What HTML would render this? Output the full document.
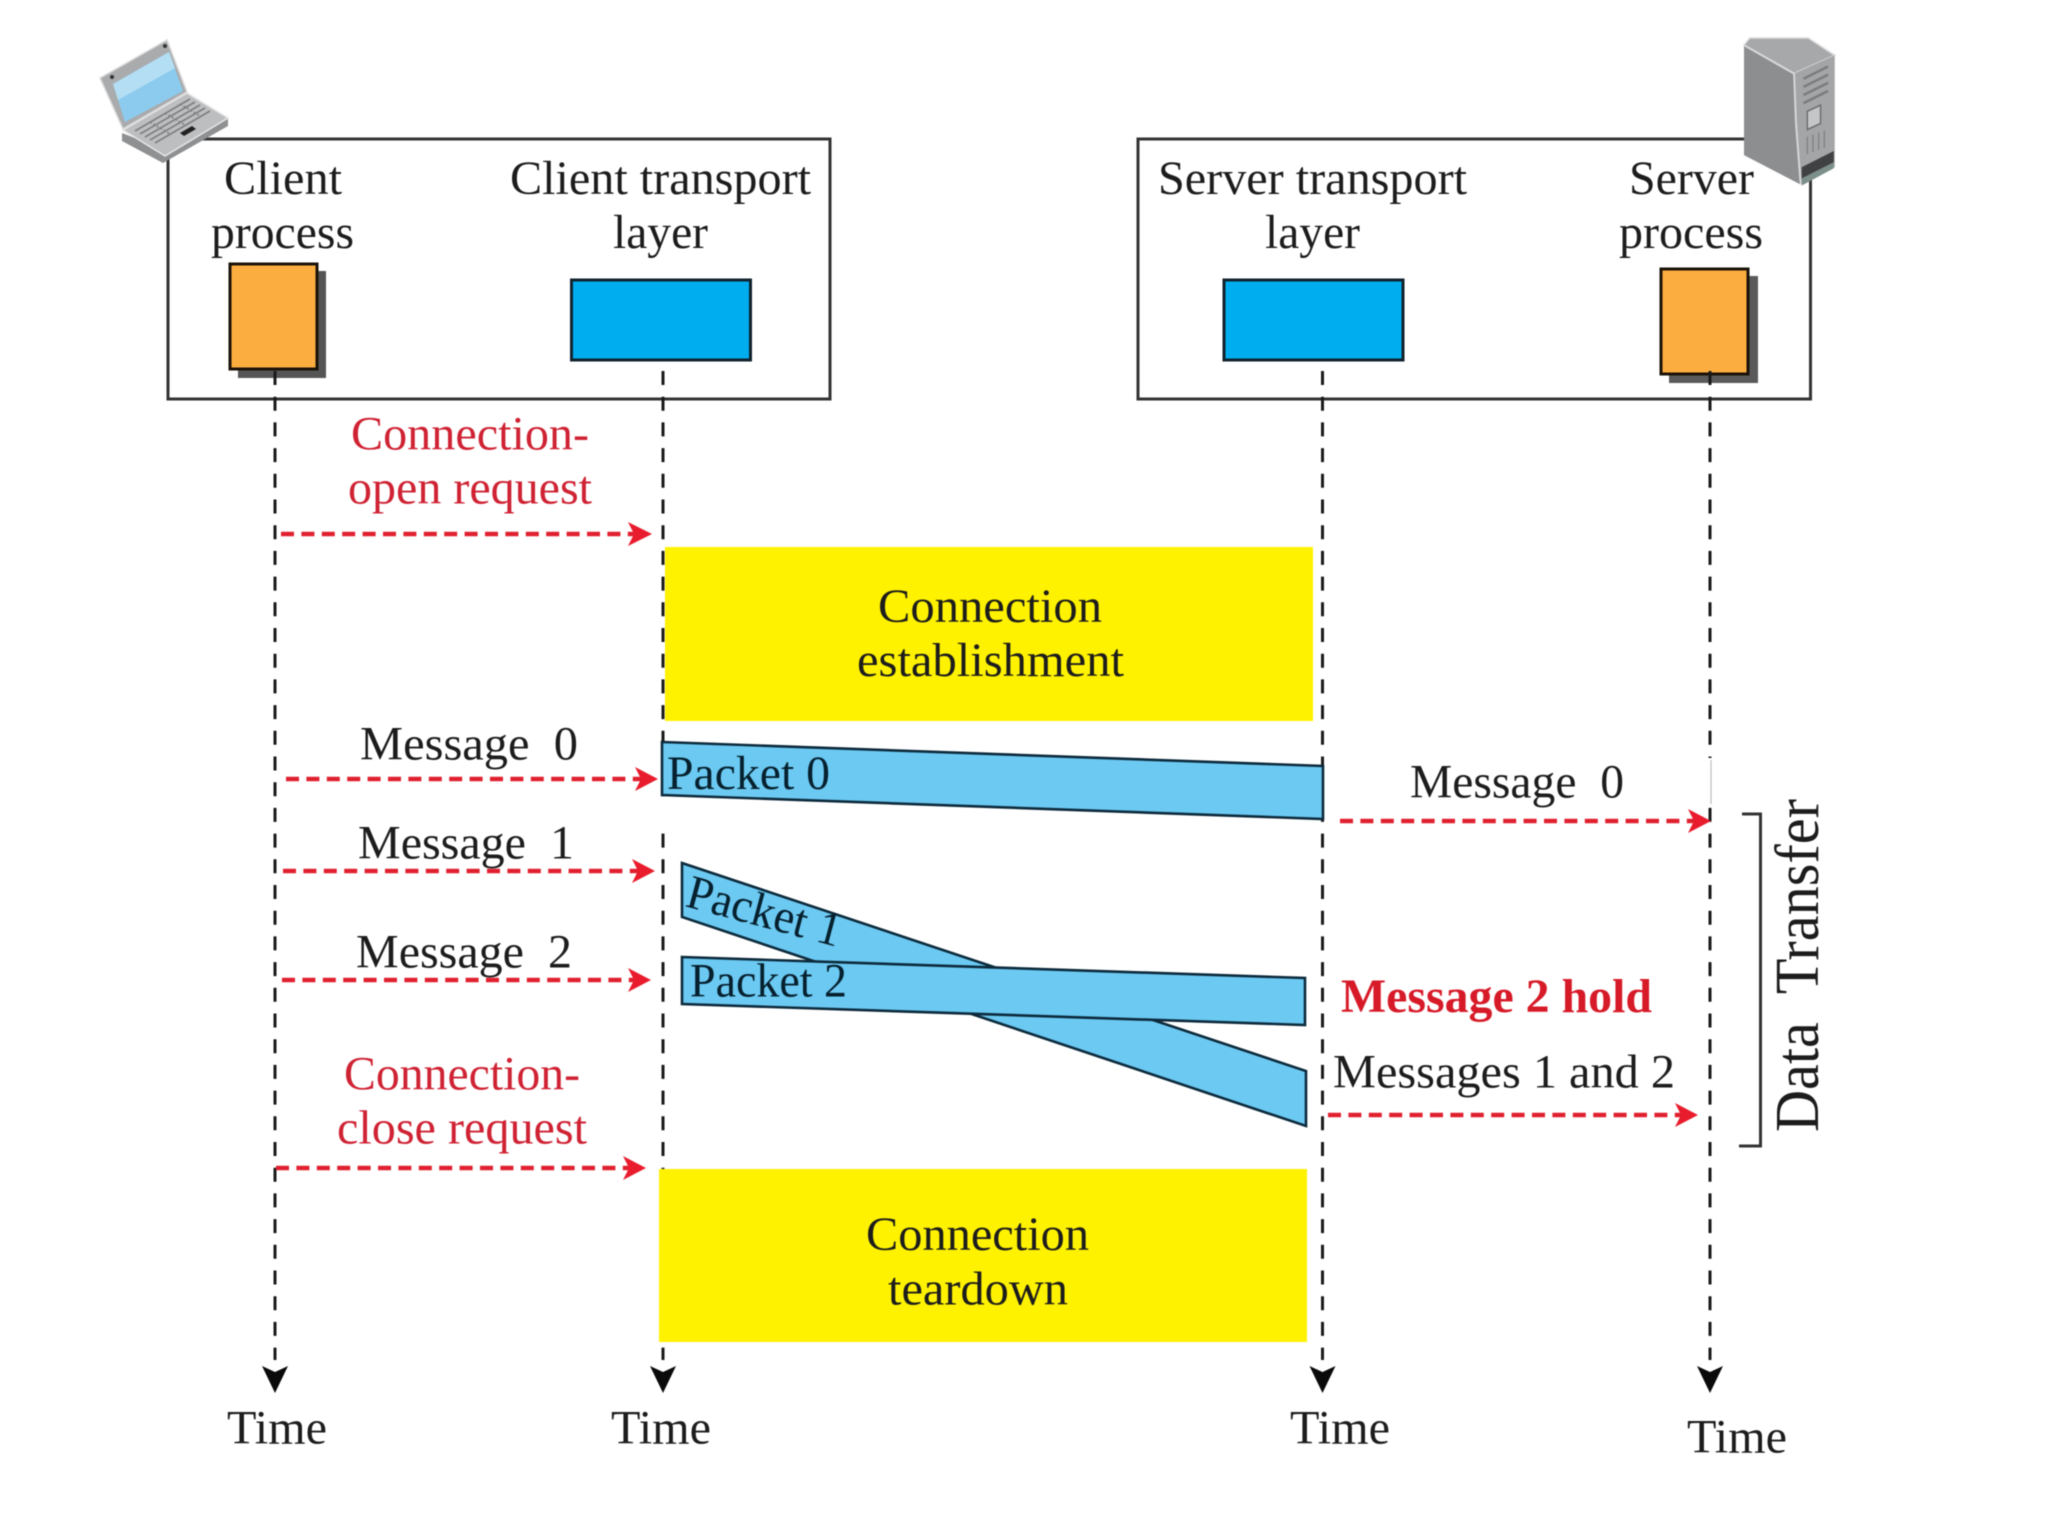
<!DOCTYPE html>
<html lang="en">
<head>
<meta charset="utf-8">
<title>Transport layer connection diagram</title>
<style>
html,body{margin:0;padding:0;background:#fff;width:2048px;height:1536px;overflow:hidden}
svg{display:block;filter:blur(0.6px)}
text{font-family:"Liberation Serif",serif;font-size:48px;fill:#1c1c1c;white-space:pre}
.r{fill:#cf2233}
.life{stroke:#1a1a1a;stroke-width:3;stroke-dasharray:14 11.7;fill:none}
.red{stroke:#e0202f;stroke-width:4.5;stroke-dasharray:13 7.4;fill:none}
.head{fill:#e81c2c}
.blk{fill:#0a0a0a}
.pk{fill:#6bc9f2;stroke:#0c2a3c;stroke-width:2.6;stroke-linejoin:miter}
</style>
</head>
<body>
<svg width="2048" height="1536" viewBox="0 0 2048 1536" xmlns="http://www.w3.org/2000/svg">
<rect width="2048" height="1536" fill="#fff"/>

<!-- top boxes -->
<rect x="168" y="139" width="662" height="260" fill="none" stroke="#333" stroke-width="3"/>
<rect x="1138" y="139" width="672.5" height="260" fill="none" stroke="#333" stroke-width="3"/>

<!-- client side -->
<rect x="238" y="271" width="88" height="107" fill="#555"/>
<rect x="230" y="264" width="87" height="105" fill="#fbad3f" stroke="#1a1208" stroke-width="3"/>
<rect x="571.5" y="280" width="179" height="80" fill="#00aeef" stroke="#10222e" stroke-width="3"/>
<!-- server side -->
<rect x="1224" y="280" width="179" height="80" fill="#00aeef" stroke="#10222e" stroke-width="3"/>
<rect x="1669" y="276" width="89" height="107" fill="#5a5a5a"/>
<rect x="1661" y="269" width="87" height="105" fill="#fbad3f" stroke="#1a1208" stroke-width="3"/>

<!-- lifelines -->
<path class="life" d="M275 371V1360"/>
<path class="life" d="M663 371V1360"/>
<path class="life" d="M1322.5 371V1360"/>
<path class="life" d="M1710 371V1360"/>
<rect x="661" y="797" width="5" height="35" fill="#fff"/>
<rect x="1707" y="758" width="7" height="46" fill="#fff"/>
<path d="M1711 760V804" stroke="#bbb" stroke-width="1.2"/>
<polygon class="blk" points="275,1393 262,1366 275,1372 288,1366"/>
<polygon class="blk" points="663,1393 650,1366 663,1372 676,1366"/>
<polygon class="blk" points="1322.5,1393 1309.5,1366 1322.5,1372 1335.5,1366"/>
<polygon class="blk" points="1710,1393 1697,1366 1710,1372 1723,1366"/>

<!-- yellow blocks -->
<rect x="665" y="547" width="648" height="174" fill="#fff200"/>
<rect x="659" y="1169" width="648" height="173" fill="#fff200"/>

<!-- packets -->
<polygon class="pk" points="662,742 1323,766 1323,819 662,795"/>
<polygon class="pk" points="682,863 1306,1071 1306,1126 682,917"/>
<polygon class="pk" points="682,957 1305,978 1305,1025 682,1004"/>

<!-- red arrows -->
<path class="red" d="M281 534H634"/><polygon class="head" points="652,534 628,522 634,534 628,546"/>
<path class="red" d="M286 779H641"/><polygon class="head" points="658,779 635,767 641,779 635,791"/>
<path class="red" d="M283 871H638"/><polygon class="head" points="655,871 632,859 638,871 632,883"/>
<path class="red" d="M282 980H634"/><polygon class="head" points="651,980 628,968 634,980 628,992"/>
<path class="red" d="M276 1168H629"/><polygon class="head" points="646,1168 623,1156 629,1168 623,1180"/>
<path class="red" d="M1340 821H1694"/><polygon class="head" points="1711,821 1688,809 1694,821 1688,833"/>
<path class="red" d="M1328 1115H1681"/><polygon class="head" points="1698,1115 1675,1103 1681,1115 1675,1127"/>

<!-- bracket -->
<path d="M1742 814H1760.5V1146H1739" fill="none" stroke="#333" stroke-width="3"/>

<!-- laptop -->
<g>
<polygon points="122,133 122,141 163,163 228,126 228,118 165,150" fill="#8e9092"/>
<polygon points="123,130 187,93 228,118 165,156" fill="#bcbec0" stroke="#e6e6e6" stroke-width="1.5"/>
<g stroke="#7c7e80" stroke-width="1.6" fill="none">
<path d="M135 131L190 99"/><path d="M140 134L195 102"/><path d="M145 137L200 105"/><path d="M150 140L205 108"/><path d="M155 143L210 111"/>
<path d="M150 122L170 134" stroke-dasharray="2 2"/><path d="M165 113L185 125" stroke-dasharray="2 2"/><path d="M180 104L200 116" stroke-dasharray="2 2"/>
</g>
<polygon points="180,133 192,126 196,129 184,136" fill="#222"/>
<polygon points="100,78 167,40 187,92 123,129" fill="#a9abad" stroke="#dcdcdc" stroke-width="1.5"/>
<polygon points="113,84 169,52 183,91 125,122" fill="#8ccbee"/>
<polygon points="113,84 169,52 175,68 118,100" fill="#b4def4"/>
<circle cx="112" cy="77" r="2" fill="#333"/><circle cx="165" cy="46" r="2" fill="#333"/>
</g>

<!-- server -->
<g transform="translate(1744 38) scale(.945 1.018) translate(-1745 -38)">
<polygon points="1745,45 1751,38 1813,38 1841,55 1798,73" fill="#a6a8aa" stroke="#dcdcdc" stroke-width="1.5"/>
<polygon points="1745,45 1798,73 1805,182 1745,153" fill="#8c8e90"/>
<polygon points="1798,73 1841,55 1841,165 1805,182" fill="#a3a5a7"/>
<path d="M1745 45L1798 73L1800 122L1805 182" fill="none" stroke="#d8d8d8" stroke-width="2"/>
<g stroke="#7a7c7e" stroke-width="2.5" fill="none">
<path d="M1808 78L1834 66"/><path d="M1808 86L1834 74"/><path d="M1808 94L1834 82"/><path d="M1808 102L1834 90"/>
</g>
<polygon points="1812,110 1826,104 1826,122 1812,128" fill="#c4c6c8" stroke="#6a6c6e" stroke-width="1.5"/>
<g stroke="#808284" stroke-width="1.5" fill="none"><path d="M1812 135V152"/><path d="M1818 133V150"/><path d="M1824 131V148"/><path d="M1830 129V146"/></g>
<polygon points="1806,165 1840,149 1840,160 1806,176" fill="#3f4143"/>
<polygon points="1806,176 1840,160 1840,166 1806,183" fill="#7d8f8a"/>
</g>

<!-- header labels -->
<text x="224" y="194" textLength="118" lengthAdjust="spacingAndGlyphs">Client</text>
<text x="211" y="248" textLength="143" lengthAdjust="spacingAndGlyphs">process</text>
<text x="510" y="194" textLength="301" lengthAdjust="spacingAndGlyphs">Client transport</text>
<text x="613" y="248" textLength="95" lengthAdjust="spacingAndGlyphs">layer</text>
<text x="1158" y="194" textLength="309" lengthAdjust="spacingAndGlyphs">Server transport</text>
<text x="1265" y="248" textLength="95" lengthAdjust="spacingAndGlyphs">layer</text>
<text x="1629" y="194" textLength="125" lengthAdjust="spacingAndGlyphs">Server</text>
<text x="1619" y="248" textLength="144" lengthAdjust="spacingAndGlyphs">process</text>

<!-- red labels -->
<text class="r" x="351" y="449.5" textLength="238" lengthAdjust="spacingAndGlyphs">Connection-</text>
<text class="r" x="348" y="503.5" textLength="244" lengthAdjust="spacingAndGlyphs">open request</text>
<text class="r" x="344" y="1089.5" textLength="236" lengthAdjust="spacingAndGlyphs">Connection-</text>
<text class="r" x="337" y="1143.5" textLength="250" lengthAdjust="spacingAndGlyphs">close request</text>

<!-- yellow labels -->
<text x="878" y="622" textLength="224" lengthAdjust="spacingAndGlyphs">Connection</text>
<text x="857" y="676" textLength="267" lengthAdjust="spacingAndGlyphs">establishment</text>
<text x="866" y="1250" textLength="223" lengthAdjust="spacingAndGlyphs">Connection</text>
<text x="888" y="1304.5" textLength="180" lengthAdjust="spacingAndGlyphs">teardown</text>

<!-- message labels -->
<text x="360" y="759.5" textLength="218" lengthAdjust="spacingAndGlyphs">Message  0</text>
<text x="358" y="858.5" textLength="216" lengthAdjust="spacingAndGlyphs">Message  1</text>
<text x="356" y="967.5" textLength="216" lengthAdjust="spacingAndGlyphs">Message  2</text>
<text x="1410" y="797.5" textLength="214" lengthAdjust="spacingAndGlyphs">Message  0</text>
<text x="1341" y="1012" textLength="311" lengthAdjust="spacingAndGlyphs" font-weight="bold" style="fill:#d71a28;font-weight:bold">Message 2 hold</text>
<text x="1333" y="1087.5" textLength="342" lengthAdjust="spacingAndGlyphs">Messages 1 and 2</text>

<!-- packet labels -->
<text x="667" y="789" textLength="163" lengthAdjust="spacingAndGlyphs" style="fill:#06202e">Packet 0</text>
<text x="690" y="996.5" textLength="157" lengthAdjust="spacingAndGlyphs" style="fill:#06202e">Packet 2</text>
<text transform="translate(684 906) rotate(15)" textLength="158" lengthAdjust="spacingAndGlyphs" style="fill:#06202e">Packet 1</text>

<!-- rotated -->
<text transform="translate(1818 1132) rotate(-90)" textLength="333" lengthAdjust="spacingAndGlyphs" style="font-size:62px">Data  Transfer</text>

<!-- time -->
<text x="227" y="1443.5" textLength="100" lengthAdjust="spacingAndGlyphs">Time</text>
<text x="611" y="1443.5" textLength="100" lengthAdjust="spacingAndGlyphs">Time</text>
<text x="1290" y="1443.5" textLength="100" lengthAdjust="spacingAndGlyphs">Time</text>
<text x="1687" y="1452.5" textLength="100" lengthAdjust="spacingAndGlyphs">Time</text>
</svg>
</body>
</html>
